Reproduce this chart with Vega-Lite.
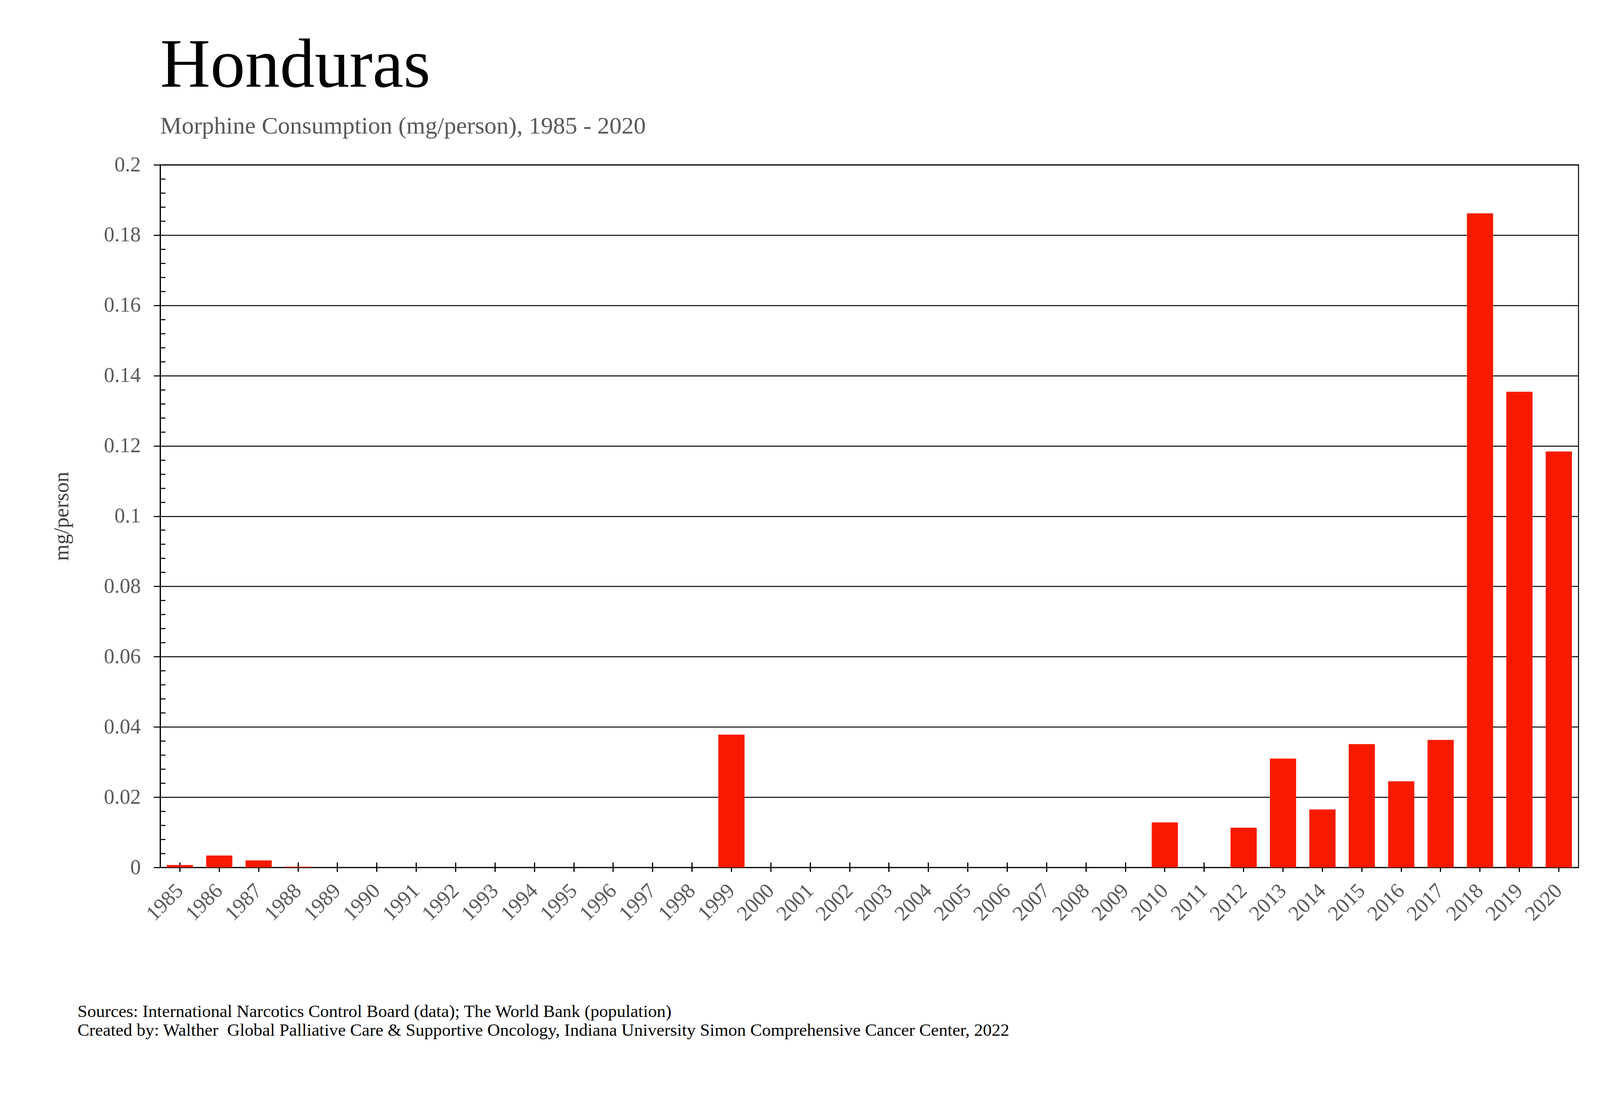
{
  "$schema": "https://vega.github.io/schema/vega-lite/v6.json",
  "width": 3631,
  "height": 1799,
  "autosize": {"type": "none"},
  "padding": {"left": 410, "top": 422, "right": 180, "bottom": 639},
  "background": "white",
  "config": {
    "view": {"stroke": "black", "strokeWidth": 2.5},
    "font": "Liberation Serif"
  },
  "title": {
    "text": "Honduras",
    "subtitle": "Morphine Consumption (mg/person), 1985 - 2020",
    "anchor": "start",
    "frame": "group",
    "font": "Liberation Serif",
    "fontSize": 178,
    "fontWeight": "normal",
    "color": "black",
    "subtitleFont": "Liberation Serif",
    "subtitleFontSize": 62,
    "subtitleColor": "#595959",
    "subtitlePadding": 34,
    "offset": 40
  },
  "data": {
    "values": [
      {"year": "1985", "value": 0.0007},
      {"year": "1986", "value": 0.0034},
      {"year": "1987", "value": 0.002},
      {"year": "1988", "value": 0.0002},
      {"year": "1989", "value": 0},
      {"year": "1990", "value": 0},
      {"year": "1991", "value": 0},
      {"year": "1992", "value": 0},
      {"year": "1993", "value": 0},
      {"year": "1994", "value": 0},
      {"year": "1995", "value": 0},
      {"year": "1996", "value": 0},
      {"year": "1997", "value": 0},
      {"year": "1998", "value": 0},
      {"year": "1999", "value": 0.0378},
      {"year": "2000", "value": 0},
      {"year": "2001", "value": 0},
      {"year": "2002", "value": 0},
      {"year": "2003", "value": 0},
      {"year": "2004", "value": 0},
      {"year": "2005", "value": 0},
      {"year": "2006", "value": 0},
      {"year": "2007", "value": 0},
      {"year": "2008", "value": 0},
      {"year": "2009", "value": 0},
      {"year": "2010", "value": 0.0128},
      {"year": "2011", "value": 0},
      {"year": "2012", "value": 0.0113},
      {"year": "2013", "value": 0.031},
      {"year": "2014", "value": 0.0165},
      {"year": "2015", "value": 0.0351},
      {"year": "2016", "value": 0.0245},
      {"year": "2017", "value": 0.0363},
      {"year": "2018", "value": 0.1862},
      {"year": "2019", "value": 0.1354},
      {"year": "2020", "value": 0.1184}
    ]
  },
  "layer": [
    {
      "mark": {"type": "bar", "color": "#f81a00"},
      "encoding": {
        "x": {
          "field": "year",
          "type": "ordinal",
          "scale": {"paddingInner": 0.335, "paddingOuter": 0.1675},
          "axis": {
            "orient": "bottom",
            "offset": -13,
            "domain": false,
            "grid": false,
            "ticks": true,
            "tickSize": 24,
            "tickWidth": 3,
            "tickColor": "black",
            "labelAngle": -45,
            "labelAlign": "right",
            "labelBaseline": "middle",
            "labelFont": "Liberation Serif",
            "labelFontSize": 54,
            "labelColor": "#595959",
            "labelPadding": 40,
            "title": [
              "Sources: International Narcotics Control Board (data); The World Bank (population)",
              "Created by: Walther \u00a0Global Palliative Care & Supportive Oncology, Indiana University Simon Comprehensive Cancer Center, 2022"
            ],
            "titleFont": "Liberation Serif",
            "titleFontSize": 45,
            "titleFontWeight": "normal",
            "titleColor": "black",
            "titleAlign": "left",
            "titleAnchor": "start",
            "titleBaseline": "alphabetic",
            "titleLineHeight": 48.4,
            "titleX": -212,
            "titleY": 395
          }
        },
        "y": {
          "field": "value",
          "type": "quantitative",
          "scale": {"domain": [0, 0.2], "nice": false, "zero": true},
          "axis": {
            "orient": "left",
            "values": [0, 0.02, 0.04, 0.06, 0.08, 0.1, 0.12, 0.14, 0.16, 0.18, 0.2],
            "format": "~g",
            "domain": true,
            "domainColor": "black",
            "domainWidth": 3,
            "grid": true,
            "gridColor": "black",
            "gridWidth": 2.5,
            "gridOpacity": 1,
            "ticks": true,
            "tickSize": 17,
            "tickWidth": 2.7,
            "tickColor": "black",
            "labelFont": "Liberation Serif",
            "labelFontSize": 54,
            "labelColor": "#595959",
            "labelPadding": 33,
            "title": "mg/person",
            "titleFont": "Liberation Serif",
            "titleFontSize": 54,
            "titleFontWeight": "normal",
            "titleColor": "#404040",
            "titlePadding": 80
          }
        }
      }
    },
    {
      "mark": {"type": "bar", "opacity": 0},
      "encoding": {
        "x": {"field": "year", "type": "ordinal"},
        "y": {
          "field": "value",
          "type": "quantitative",
          "axis": {
            "orient": "left",
            "values": [0.004, 0.008, 0.012, 0.016, 0.024, 0.028, 0.032, 0.036, 0.044, 0.048, 0.052, 0.056, 0.064, 0.068, 0.072, 0.076, 0.084, 0.088, 0.092, 0.096, 0.104, 0.108, 0.112, 0.116, 0.124, 0.128, 0.132, 0.136, 0.144, 0.148, 0.152, 0.156, 0.164, 0.168, 0.172, 0.176, 0.184, 0.188, 0.192, 0.196],
            "domain": false,
            "grid": false,
            "labels": false,
            "title": null,
            "ticks": true,
            "tickSize": -13,
            "tickWidth": 2.7,
            "tickColor": "black"
          }
        }
      }
    }
  ],
  "resolve": {"axis": {"y": "independent"}}
}
